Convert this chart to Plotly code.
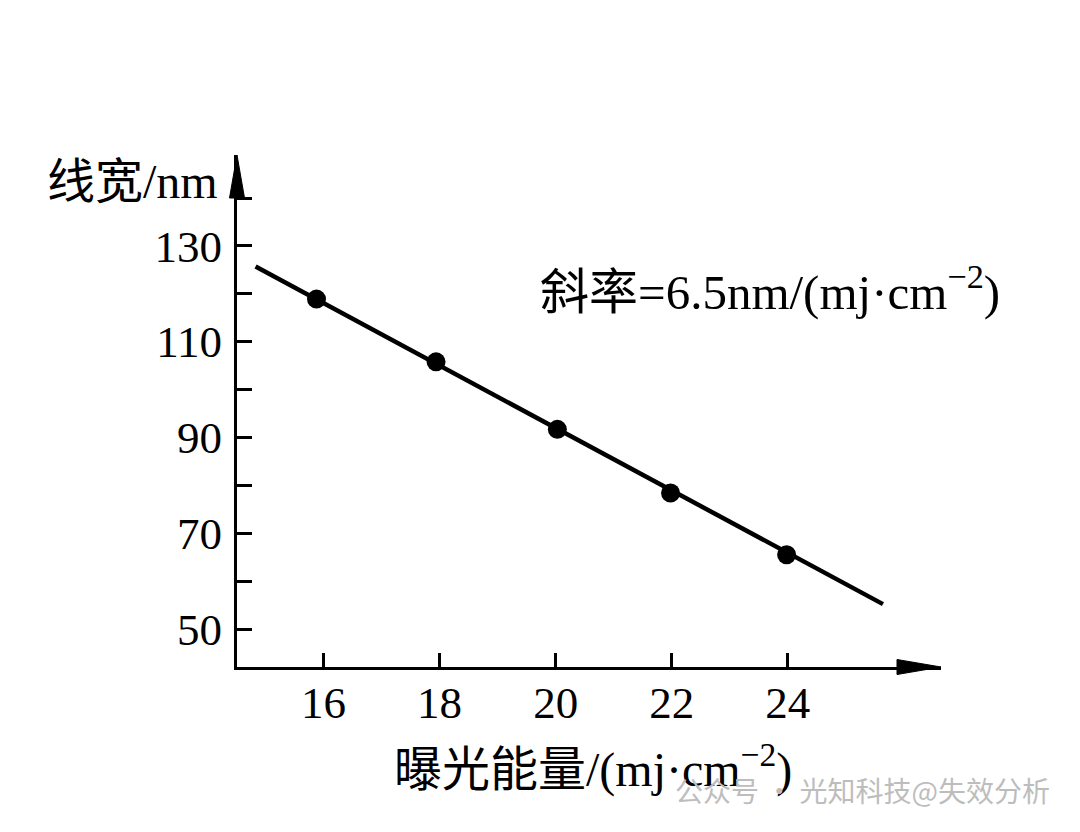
import plotly.graph_objects as go

# ---- data ----
energy = [15.88, 17.94, 20.03, 21.98, 23.98]          # mJ/cm^2
linewidth = [118.9, 105.8, 91.7, 78.4, 65.5]          # nm
fit_x = [14.83, 25.64]
fit_y = [125.7, 55.2]
x_ticks = [16, 18, 20, 22, 24]
y_ticks = [50, 70, 90, 110, 130]
x_range = [14.51, 26.64]
y_range = [42.07, 149.0]

OFF = 8  # default page body margin
W, H = 1064, 816
L, T = 237 - OFF, 155 - OFF
R = W - (941 - OFF)
B = H - (667 - OFF)
PW, PH = W - L - R, H - T - B


def px(x):
    """page pixel x -> paper fraction"""
    return (x - OFF - L) / PW


def py(y):
    """page pixel y -> paper fraction"""
    return (H - B - (y - OFF)) / PH


SERIF = "Liberation Serif, Noto Sans CJK SC"

fig = go.Figure()
fig.add_trace(go.Scatter(x=fit_x, y=fit_y, mode="lines",
                         line=dict(color="black", width=4.5),
                         showlegend=False, hoverinfo="skip"))
fig.add_trace(go.Scatter(x=energy, y=linewidth, mode="markers",
                         marker=dict(color="black", size=19),
                         showlegend=False))

fig.update_xaxes(range=x_range, showline=True, linecolor="black", linewidth=3,
                 showgrid=False, zeroline=False,
                 tickmode="array", tickvals=x_ticks,
                 ticktext=[str(v) for v in x_ticks],
                 ticks="inside", ticklen=14, tickwidth=2.5, tickcolor="black",
                 ticklabelstandoff=-6,
                 tickfont=dict(family=SERIF, size=45, color="black"))
fig.update_yaxes(range=y_range, showline=True, linecolor="black", linewidth=3,
                 showgrid=False, zeroline=False,
                 tickmode="array", tickvals=y_ticks,
                 ticktext=[str(v) for v in y_ticks],
                 ticks="inside", ticklen=15, tickwidth=2.5, tickcolor="black",
                 ticklabelstandoff=3,
                 minor=dict(dtick=10, tick0=50, ticks="inside", ticklen=15,
                            tickwidth=2.5, tickcolor="black", showgrid=False),
                 tickfont=dict(family=SERIF, size=45, color="black"))

# axis arrowheads
fig.add_shape(type="path", xref="paper", yref="paper",
              path=f"M {px(237)},{py(155)} L {px(229.5)},{py(198)} L {px(244.5)},{py(198)} Z",
              fillcolor="black", line=dict(color="black", width=1))
fig.add_shape(type="path", xref="paper", yref="paper",
              path=f"M {px(941)},{py(667)} L {px(897)},{py(659.5)} L {px(897)},{py(674.5)} Z",
              fillcolor="black", line=dict(color="black", width=1))

# texts
fig.add_annotation(xref="paper", yref="paper", x=px(220), y=py(181),
                   xanchor="right", yanchor="middle", showarrow=False,
                   text="线宽/nm", font=dict(family=SERIF, size=48, color="black"))
fig.add_annotation(xref="paper", yref="paper", x=px(392), y=py(766),
                   xanchor="left", yanchor="middle", showarrow=False,
                   text="曝光能量/(mj·cm<sup>−2</sup>)",
                   font=dict(family=SERIF, size=48, color="black"))
fig.add_annotation(xref="paper", yref="paper", x=px(538), y=py(288),
                   xanchor="left", yanchor="middle", showarrow=False,
                   text="斜率=6.5nm/(mj·cm<sup>−2</sup>)",
                   font=dict(family=SERIF, size=49, color="black"))
fig.add_annotation(xref="paper", yref="paper", x=px(1052), y=py(790),
                   xanchor="right", yanchor="middle", showarrow=False,
                   text="公众号 · 光知科技@失效分析",
                   font=dict(family="Noto Sans CJK SC", size=28, color="#bdbdbd"))

fig.update_layout(width=W, height=H, margin=dict(l=L, r=R, t=T, b=B),
                  paper_bgcolor="white", plot_bgcolor="white")
fig.write_html("out.html")
